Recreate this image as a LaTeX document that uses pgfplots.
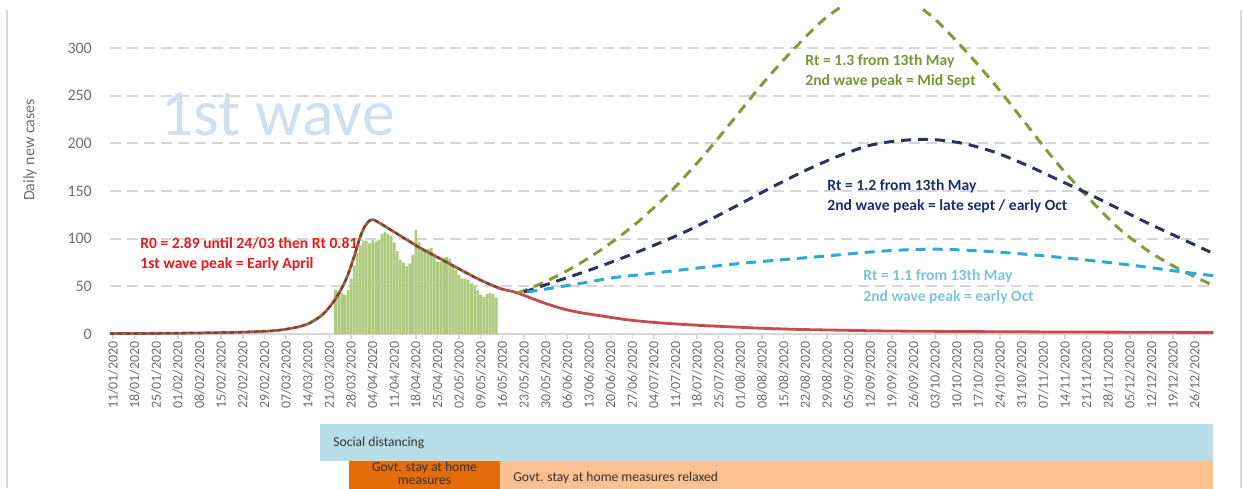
\documentclass[border=0pt]{standalone}
\usepackage{pgfplots}
\pgfplotsset{compat=1.18}
\usepackage{pgfplotstable}
\usepackage{fontspec}
\setmainfont{Carlito}

\definecolor{redc}{RGB}{200,75,72}
\definecolor{dgreen}{RGB}{60,100,40}
\definecolor{olive13}{RGB}{130,155,60}
\definecolor{navy12}{RGB}{40,52,90}
\definecolor{cyan11}{RGB}{40,170,225}
\definecolor{barg}{RGB}{172,202,124}
\definecolor{gridc}{RGB}{215,215,215}
\definecolor{tickc}{RGB}{110,110,110}
\definecolor{wave}{RGB}{210,223,238}
\definecolor{txtred}{RGB}{235,25,25}
\definecolor{txtolive}{RGB}{120,150,55}
\definecolor{txtnavy}{RGB}{30,45,110}
\definecolor{txtcyan}{RGB}{125,195,220}
\definecolor{socblue}{RGB}{183,222,232}
\definecolor{dorange}{RGB}{228,108,10}
\definecolor{lorange}{RGB}{250,192,144}

% day 0 = 11/01/2020
\pgfplotstableread{
d v
-1 0.5
10 0.6
20 0.8
30 1.2
40 1.8
50 3
55 4.5
60 7.5
63 10.5
66 16
68 21
70 28
72 37
74 48
76 62
78 81
80 102
81.5 113
83 119
84 120
86 117
88 113
91 107
95 99
99 91
103 84
107 77
111 70
115 63
118 58
122 52
126 47
130 44
135 38
140 32
146 26
152 22
158 19
165 15.5
172 13
180 11
190 9
200 7.5
210 6
222 4.8
235 4
250 3.2
265 2.8
280 2.5
300 2.2
320 2
340 1.8
356 1.5
}\redtab

\pgfplotstableread{
d v
72 46
73 45
74 43
75 41
76 46
77 58
78 72
79 85
80 93
81 98
82 98
83 95
84 99
85 97
86 99
87 105
88 107
89 105
90 103
91 96
92 87
93 78
94 75
95 71
96 74
97 83
98 109
99 96
100 90
101 88
102 89
103 90
104 84
105 76
106 76
107 80
108 81
109 79
110 73
111 67
112 62
113 58
114 58
115 57
116 53
117 50
118 46
119 41
120 39
121 42
122 43
123 42
124 38
}\bartab

\pgfplotstableread{
d v
131 43
140 55
150 72
160 93
170 118
180 148
190 183
200 222
210 262
220 298
230 330
240 352
248 360
256 353
265 333
275 300
285 263
295 222
305 181
315 145
325 112
335 87
345 68
356 51
}\olivetab

\pgfplotstableread{
d v
133 44
145 57
155 68
165 80
175 93
185 107
195 123
205 140
215 157
225 173
235 187
245 198
255 203
265 204
275 200
285 191
295 178
305 163
315 148
325 132
335 116
345 101
355 86
}\navytab

\pgfplotstableread{
d v
134 44
151.1 53
161.8 59
172.8 63
183.4 67
194.1 71
206.1 75
227.8 81
249.1 87
265.3 89
281.5 87
297.6 83
313.8 78
330.0 72
346.2 65
356.5 61
}\cyantab

\begin{document}
\begin{tikzpicture}
\path[use as bounding box] (0,0) rectangle (621.5pt,244pt);
\begin{axis}[
  at={(54.95pt,77pt)}, anchor=south west,
  scale only axis, width=551.7pt, height=163pt,
  xmin=-1, xmax=356, ymin=0, ymax=342,
  axis x line*=bottom, axis y line*=left,
  y axis line style={draw=none},
  x axis line style={draw=gridc, line width=0.9pt},
  ytick={0,50,...,300},
  ytick style={draw=none},
  ymajorgrids,
  grid style={dash pattern=on 5.5pt off 3pt, draw=gridc, line width=0.9pt},
  xtick={0,7,...,350},
  xticklabels={11/01/2020,18/01/2020,25/01/2020,01/02/2020,08/02/2020,15/02/2020,22/02/2020,29/02/2020,07/03/2020,14/03/2020,21/03/2020,28/03/2020,04/04/2020,11/04/2020,18/04/2020,25/04/2020,02/05/2020,09/05/2020,16/05/2020,23/05/2020,30/05/2020,06/06/2020,13/06/2020,20/06/2020,27/06/2020,04/07/2020,11/07/2020,18/07/2020,25/07/2020,01/08/2020,08/08/2020,15/08/2020,22/08/2020,29/08/2020,05/09/2020,12/09/2020,19/09/2020,26/09/2020,03/10/2020,10/10/2020,17/10/2020,24/10/2020,31/10/2020,07/11/2020,14/11/2020,21/11/2020,28/11/2020,05/12/2020,12/12/2020,19/12/2020,26/12/2020},
  xtick style={draw=gridc, line width=0.7pt},
  tick align=outside, major tick length=2.5pt,
  /pgf/number format/assume math mode=true,
  xticklabel style={rotate=90, anchor=east, font=\fontsize{7}{8}\selectfont, text=tickc, inner sep=1pt},
  yticklabel style={font=\fontsize{8}{9}\selectfont, text=tickc, xshift=-3pt},
]
\addplot[ybar, bar width=0.85, fill=barg, draw=none] table[x=d,y=v] {\bartab};
\addplot[color=redc, line width=1.4pt, smooth] table[x=d,y=v] {\redtab};
\addplot[color=dgreen, line width=1.1pt, dash pattern=on 2pt off 2pt, smooth, restrict x to domain=-1:129] table[x=d,y=v] {\redtab};
\addplot[color=olive13, line width=1.5pt, dash pattern=on 5pt off 3.5pt, smooth] table[x=d,y=v] {\olivetab};
\addplot[color=navy12, line width=1.5pt, dash pattern=on 5pt off 3.5pt, smooth] table[x=d,y=v] {\navytab};
\addplot[color=cyan11, line width=1.5pt, dash pattern=on 5pt off 3.5pt, smooth] table[x=d,y=v] {\cyantab};
\end{axis}
\begin{scope}[x=0.5pt,y=-0.5pt,yshift=244pt]
  % borders
  \draw[black!15, line width=0.8pt] (7,10) -- (7,488);
  \draw[black!15, line width=0.8pt] (1241,10) -- (1241,488);
  % y label
  \node[rotate=90, font=\fontsize{8}{9}\selectfont, text=tickc] at (30,150) {Daily new cases};
  % big text
  \node[anchor=west, inner sep=0, font=\fontsize{33}{36}\selectfont, text=wave] at (160,115) {1st wave};
  % annotations
  \begin{scope}[every node/.style={anchor=west, inner sep=0, font=\fontsize{7.8}{9}\selectfont\bfseries}]
  \node[text=txtred] at (140,243) {R0 = 2.89 until 24/03 then Rt 0.81};
  \node[text=txtred] at (140,264) {1st wave peak = Early April};
  \node[text=txtolive] at (805,61) {Rt = 1.3 from 13th May};
  \node[text=txtolive] at (805,81) {2nd wave peak = Mid Sept};
  \node[text=txtnavy] at (827,186) {Rt = 1.2 from 13th May};
  \node[text=txtnavy] at (827,206) {2nd wave peak = late sept / early Oct};
  \node[text=txtcyan] at (863,276) {Rt = 1.1 from 13th May};
  \node[text=txtcyan] at (863,297) {2nd wave peak = early Oct};
  \end{scope}
  % measure boxes
  \fill[socblue] (320,424) rectangle (1213,461);
  \fill[dorange] (349,461) rectangle (500,500);
  \fill[lorange] (500,461) rectangle (1213,500);
  \begin{scope}[every node/.style={inner sep=0, font=\fontsize{6.8}{8}\selectfont, text=black!80}]
  \node[anchor=west] at (333,443) {Social distancing};
  \node at (424.5,468) {Govt. stay at home};
  \node at (424.5,481) {measures};
  \node[anchor=west] at (513,478) {Govt. stay at home measures relaxed};
  \end{scope}
\end{scope}
\end{tikzpicture}
\end{document}
